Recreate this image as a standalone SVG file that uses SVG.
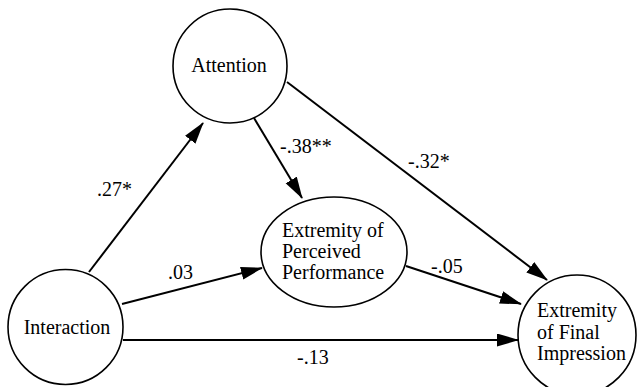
<svg xmlns="http://www.w3.org/2000/svg" width="637" height="387" viewBox="0 0 637 387">
<style>
.node{fill:#fff;stroke:#000;stroke-width:1.6}
.t{font-family:'Liberation Serif','Times New Roman','DejaVu Serif',serif;font-size:20px;fill:#000}
.c{text-anchor:middle}
.edge{stroke:#000;stroke-width:2;fill:none;marker-end:url(#ah)}
</style>
<defs>
<marker id="ah" markerUnits="userSpaceOnUse" markerWidth="24" markerHeight="14" refX="21" refY="6.5" orient="auto">
<path d="M0,0 L22,6.5 L0,13 z" fill="#000"/>
</marker>
</defs>
<rect width="637" height="387" fill="#fff"/>
<g id="connectors" font-family="Liberation Serif, Times New Roman, serif">
<line class="edge" x1="89" y1="272" x2="203" y2="123"/>
<line class="edge" x1="254" y1="118" x2="302" y2="198"/>
<line class="edge" x1="287" y1="82" x2="547" y2="280"/>
<line class="edge" x1="122" y1="304" x2="262" y2="268"/>
<line class="edge" x1="406" y1="266" x2="521" y2="304"/>
<line class="edge" x1="123" y1="340" x2="518" y2="340"/>
<text class="t" x="97" y="196">.27*</text>
<text class="t" x="280" y="153">-.38**</text>
<text class="t" x="408" y="168">-.32*</text>
<text class="t" x="168" y="279">.03</text>
<text class="t" x="431" y="273">-.05</text>
<text class="t" x="297" y="364">-.13</text>
</g>
<g id="attention" font-family="Liberation Serif, Times New Roman, serif">
<circle class="node" cx="230" cy="66" r="57"/>
<text class="t c" x="229" y="72">Attention</text>
</g>
<g id="interaction" font-family="Liberation Serif, Times New Roman, serif">
<circle class="node" cx="65.5" cy="327" r="57.5"/>
<text class="t c" x="67" y="334">Interaction</text>
</g>
<g id="perceived" font-family="Liberation Serif, Times New Roman, serif">
<ellipse class="node" cx="334" cy="252" rx="73" ry="55"/>
<text class="t" x="282" y="237">Extremity of</text>
<text class="t" x="282" y="258">Perceived</text>
<text class="t" x="282" y="279">Performance</text>
</g>
<g id="final" font-family="Liberation Serif, Times New Roman, serif">
<ellipse class="node" cx="577" cy="335" rx="59" ry="60"/>
<text class="t" x="537" y="317">Extremity</text>
<text class="t" x="537" y="339">of Final</text>
<text class="t" x="537" y="360">Impression</text>
</g>
</svg>
